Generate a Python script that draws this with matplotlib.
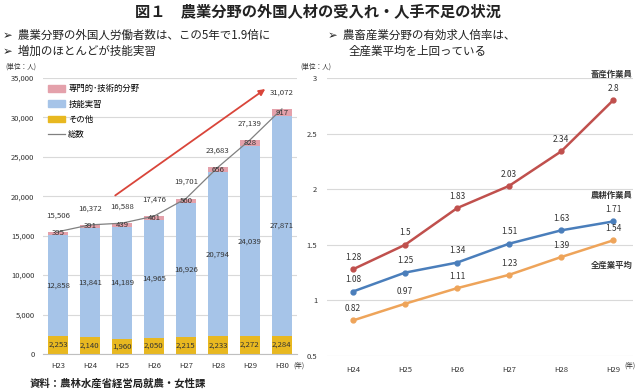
import matplotlib
matplotlib.use("Agg")
import matplotlib.pyplot as plt
import numpy as np
from matplotlib.patches import Patch
from matplotlib.lines import Line2D

plt.rcParams['font.family'] = ['Noto Sans CJK JP', 'DejaVu Sans']

# ---- data ----
years_left = ["H23", "H24", "H25", "H26", "H27", "H28", "H29", "H30"]
other = [2253, 2140, 1960, 2050, 2215, 2233, 2272, 2284]
trainee = [12858, 13841, 14189, 14965, 16926, 20794, 24039, 27871]
specialist = [395, 391, 439, 461, 560, 656, 828, 917]
totals = [15506, 16372, 16588, 17476, 19701, 23683, 27139, 31072]

years_right = ["H24", "H25", "H26", "H27", "H28", "H29"]
livestock = [1.28, 1.5, 1.83, 2.03, 2.34, 2.8]
farming = [1.08, 1.25, 1.34, 1.51, 1.63, 1.71]
all_ind = [0.82, 0.97, 1.11, 1.23, 1.39, 1.54]

c_pink = "#e4a1ab"
c_blue = "#a6c4e8"
c_yellow = "#e8b820"
c_red = "#c0504d"
c_lblue = "#4a7ebb"
c_orange = "#eea45a"
grid_c = "#d9d9d9"
txt = "#333333"

fig = plt.figure(figsize=(6.4, 3.91), dpi=100)

def ftext(px, py, s, **kw):
    fig.text(px / 640, 1 - py / 391, s, **kw)

# ---- left chart ----
ax = fig.add_axes([0.067, 0.0946, 0.397, 0.706])
x = np.arange(len(years_left))
w = 0.62
ax.bar(x, other, w, color=c_yellow, zorder=2)
ax.bar(x, trainee, w, bottom=other, color=c_blue, zorder=2)
bot2 = np.array(other) + np.array(trainee)
ax.bar(x, specialist, w, bottom=bot2, color=c_pink, zorder=2)
ax.plot(x, totals, color="#808080", lw=0.9, zorder=3)
fs = 5.6
for i in range(len(x)):
    ax.text(x[i], other[i] / 2, f"{other[i]:,}", ha="center", va="center", fontsize=fs, color=txt, zorder=4)
    ax.text(x[i], other[i] + trainee[i] / 2, f"{trainee[i]:,}", ha="center", va="center", fontsize=fs, color=txt, zorder=4)
    ax.text(x[i], bot2[i] + specialist[i] / 2, f"{specialist[i]:,}", ha="center", va="center", fontsize=fs, color=txt, zorder=4)
    ax.annotate(f"{totals[i]:,}", (x[i], totals[i]), xytext=(0, 9), textcoords="offset points",
                ha="center", va="bottom", fontsize=fs, color=txt, zorder=4)
ax.set_xlim(-0.47, 7.47)
ax.set_ylim(0, 35000)
ax.set_yticks(np.arange(0, 35001, 5000))
ax.yaxis.set_major_formatter(matplotlib.ticker.FuncFormatter(lambda v, p: f"{int(v):,}"))
ax.set_xticks(x)
ax.set_xticklabels(years_left)
ax.tick_params(length=0, labelsize=5.5, colors=txt, pad=6)
ax.grid(axis="y", color=grid_c, lw=0.8, zorder=0)
for s in ["top", "right", "left"]:
    ax.spines[s].set_visible(False)
ax.spines["bottom"].set_color("#bfbfbf")
ax.annotate("", xy=(6.55, 33800), xytext=(1.72, 19900),
            arrowprops=dict(arrowstyle="-|>", color="#d9453a", lw=1.3, mutation_scale=9), zorder=5)
handles = [Patch(color=c_pink), Patch(color=c_blue), Patch(color=c_yellow),
           Line2D([], [], color="#808080", lw=0.9)]
labels = ["専門的･技術的分野", "技能実習", "その他", "総数"]
ax.legend(handles, labels, loc="upper left", bbox_to_anchor=(0.0, 0.995), frameon=False,
          fontsize=6, handlelength=2.1, handleheight=0.9, labelspacing=0.75,
          handletextpad=0.35, borderaxespad=0.2)

# ---- right chart ----
ax2 = fig.add_axes([0.511, 0.0895, 0.478, 0.711])
xr = np.arange(len(years_right))
for vals, col in [(livestock, c_red), (farming, c_lblue), (all_ind, c_orange)]:
    ax2.plot(xr, vals, color=col, lw=1.8, marker="o", ms=3.5, zorder=3)
    for i, v in enumerate(vals):
        ax2.annotate(f"{v:g}", (xr[i], v), xytext=(0, 8.5), textcoords="offset points",
                     ha="center", va="center", fontsize=6, color=txt)
ax2.set_xlim(-0.5, 5.38)
ax2.set_ylim(0.5, 3)
ax2.set_yticks([0.5, 1, 1.5, 2, 2.5, 3])
ax2.set_yticklabels(["0.5", "1", "1.5", "2", "2.5", "3"])
ax2.set_xticks(xr)
ax2.set_xticklabels(years_right)
ax2.tick_params(length=0, labelsize=5.5, colors=txt, pad=7)
ax2.grid(axis="y", color=grid_c, lw=0.8, zorder=0)
for s in ["top", "right", "left", "bottom"]:
    ax2.spines[s].set_visible(False)
ftext(612, 74, "畜産作業員", ha="center", va="center", fontsize=6, color=txt, fontweight="bold")
ftext(612, 195, "農耕作業員", ha="center", va="center", fontsize=6, color=txt, fontweight="bold")
ftext(612, 265, "全産業平均", ha="center", va="center", fontsize=6, color=txt, fontweight="bold")

# ---- figure texts ----
ftext(318, 12, "図１　農業分野の外国人材の受入れ・人手不足の状況", ha="center", va="center",
      fontsize=11, fontweight="bold", color="#222222")
ftext(3, 35, "➢  農業分野の外国人労働者数は、この5年で1.9倍に", ha="left", va="center", fontsize=8.3, color="#222222")
ftext(3, 51, "➢  増加のほとんどが技能実習", ha="left", va="center", fontsize=8.3, color="#222222")
ftext(328, 35, "➢  農畜産業分野の有効求人倍率は、", ha="left", va="center", fontsize=8.3, color="#222222")
ftext(349, 51, "全産業平均を上回っている", ha="left", va="center", fontsize=8.3, color="#222222")
ftext(5, 67, "(単位：人)", ha="left", va="center", fontsize=4.8, color=txt)
ftext(300, 67, "(単位：人)", ha="left", va="center", fontsize=4.8, color=txt)
ftext(293, 366, "(年)", ha="left", va="center", fontsize=4.8, color=txt)
ftext(624, 366, "(年)", ha="left", va="center", fontsize=4.8, color=txt)
ftext(30, 384, "資料：農林水産省経営局就農・女性課", ha="left", va="center", fontsize=7.5,
      fontweight="bold", color="#222222")

fig.savefig("out.png", dpi=100)
